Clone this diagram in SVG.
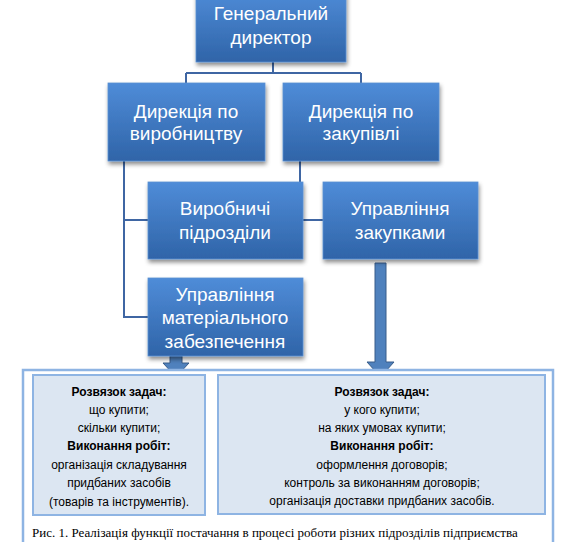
<svg xmlns="http://www.w3.org/2000/svg" width="585" height="542" viewBox="0 0 585 542">
<style>
.node{fill:url(#g);stroke:#5b8fd1;stroke-width:0.8;filter:url(#sh)}
.nt{font-family:"Liberation Sans",Arial,sans-serif;font-size:19px;fill:#fff;text-anchor:middle}
.con{fill:none;stroke:#3f66a3;stroke-width:2}
.ba{fill:#4f81bd;stroke:#385d8a;stroke-width:1}
.ib{fill:#dce6f2;stroke:#8eb4e3;stroke-width:2}
.bt{font-family:"Liberation Sans",Arial,sans-serif;font-size:12px;fill:#000;text-anchor:middle}
.b{font-weight:bold}
.cap{font-family:"Liberation Serif","Times New Roman",serif;font-size:13px;fill:#000}
</style>
<defs>
<linearGradient id="g" x1="0" y1="0" x2="0" y2="1">
<stop offset="0" stop-color="#4f8cd8"/>
<stop offset="1" stop-color="#2f64a8"/>
</linearGradient>
<filter id="sh" x="-10%" y="-10%" width="130%" height="140%">
<feDropShadow dx="1" dy="3" stdDeviation="2" flood-color="#000" flood-opacity="0.45"/>
</filter>
</defs>
<g id="connectors">
<path class="con" d="M273 62 V73 M186 73 H361 M186 73 V83 M361 73 V83"/>
<path class="con" d="M124 161 V317 H148 M124 220 H148"/>
<path class="con" d="M300 161 V182"/>
<path class="con" d="M303 220 H323"/>
<path class="ba" d="M375 263 H386 V362 H394 L380.5 377 L367 362 H375 Z"/>
<path class="ba" d="M170 356 H182 V363 H189 L176 377 L163 363 H170 Z"/>
</g>
<g id="outer">
<rect x="23" y="370" width="530" height="190" fill="#fff" stroke="#8eb4e3" stroke-width="2.5"/>
</g>
<g id="n1"><rect class="node" x="196" y="-10" width="150" height="72"/>
<text class="nt" x="271" y="20">Генеральний</text><text class="nt" x="271" y="44">директор</text></g>
<g id="n2"><rect class="node" x="108" y="83" width="157" height="78"/>
<text class="nt" x="186" y="118">Дирекція по</text><text class="nt" x="186" y="140">виробництву</text></g>
<g id="n3"><rect class="node" x="283" y="83" width="156" height="78"/>
<text class="nt" x="361" y="118">Дирекція по</text><text class="nt" x="361" y="140">закупівлі</text></g>
<g id="n4"><rect class="node" x="148" y="182" width="155" height="77"/>
<text class="nt" x="225" y="215">Виробничі</text><text class="nt" x="225" y="239">підрозділи</text></g>
<g id="n5"><rect class="node" x="323" y="182" width="155" height="77"/>
<text class="nt" x="400" y="215">Управління</text><text class="nt" x="400" y="239">закупками</text></g>
<g id="n6"><rect class="node" x="148" y="278" width="155" height="78"/>
<text class="nt" x="225" y="301">Управління</text><text class="nt" x="225" y="324">матеріального</text><text class="nt" x="225" y="348">забезпечення</text></g>
<g id="b1"><rect class="ib" x="33" y="375" width="172" height="140"/>
<text class="bt b" x="119" y="396">Розвязок задач:</text>
<text class="bt" x="119" y="414">що купити;</text>
<text class="bt" x="119" y="432">скільки купити;</text>
<text class="bt b" x="119" y="450">Виконання робіт:</text>
<text class="bt" x="119" y="469">організація складування</text>
<text class="bt" x="119" y="487">придбаних засобів</text>
<text class="bt" x="119" y="506">(товарів та інструментів).</text></g>
<g id="b2"><rect class="ib" x="218" y="375" width="327" height="139"/>
<text class="bt b" x="382" y="396">Розвязок задач:</text>
<text class="bt" x="382" y="414">у кого купити;</text>
<text class="bt" x="382" y="432">на яких умовах купити;</text>
<text class="bt b" x="382" y="450">Виконання робіт:</text>
<text class="bt" x="382" y="469">оформлення договорів;</text>
<text class="bt" x="382" y="487">контроль за виконанням договорів;</text>
<text class="bt" x="382" y="505">організація доставки придбаних засобів.</text></g>
<text class="cap" x="32" y="537">Рис. 1. Реалізація функції постачання в процесі роботи різних підрозділів підприємства</text>
</svg>
